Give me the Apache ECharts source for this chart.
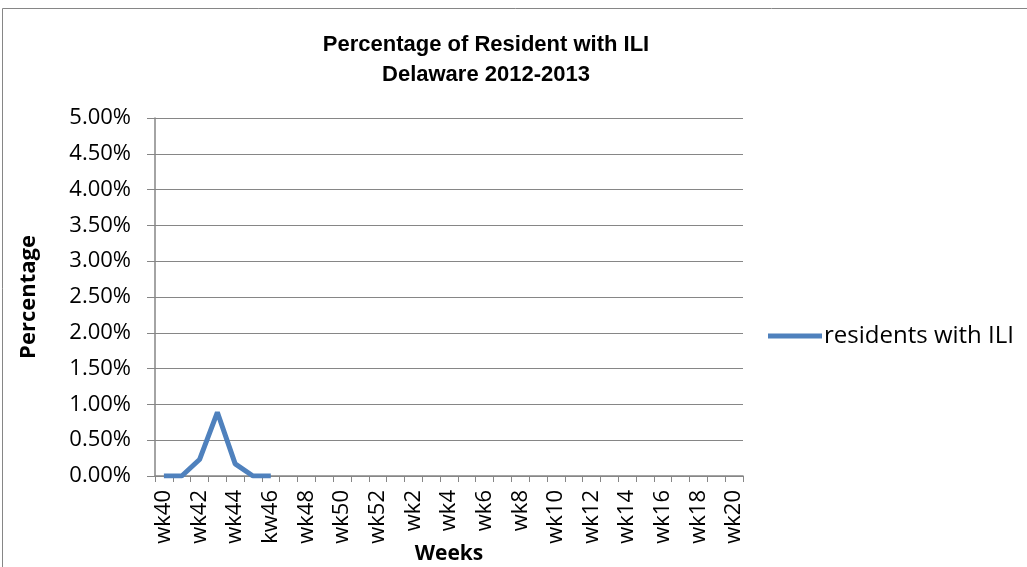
<!DOCTYPE html>
<html><head><meta charset="utf-8">
<script src="https://cdn.jsdelivr.net/npm/echarts@6/dist/echarts.min.js"></script>
<style>html,body{margin:0;padding:0;background:#fff}#c{width:1027px;height:567px}</style>
</head><body><div id="c"></div>
<script>
const weeks = ['wk40','wk41','wk42','wk43','wk44','wk45','kw46','wk47','wk48','wk49','wk50','wk51','wk52',
  'wk1','wk2','wk3','wk4','wk5','wk6','wk7','wk8','wk9','wk10','wk11','wk12','wk13','wk14','wk15','wk16','wk17','wk18','wk19','wk20'];
const residentsILI = [0, 0, 0.0023, 0.0089, 0.0017, 0, 0, null, null, null, null, null, null,
  null, null, null, null, null, null, null, null, null, null, null, null, null, null, null, null, null, null, null, null];
const chart = echarts.init(document.getElementById('c'));
chart.setOption({
  animation: false,
  graphic: [{type:'rect', shape:{x:2.5,y:8.5,width:1030,height:570}, style:{fill:'none', stroke:'#868686', lineWidth:1}}],
  title: {
    text: 'Percentage of Resident with ILI\nDelaware 2012-2013',
    left: 481, top: 25, textAlign: 'center',
    textStyle: {fontFamily:'Liberation Sans', fontWeight:'bold', fontSize:22, lineHeight:30, color:'#000'}
  },
  legend: {
    orient:'vertical', left: 763, top: 319, itemWidth: 54, itemHeight: 5,
    icon: 'rect', itemGap: 0,
    textStyle: {fontFamily:'Open Sans', fontSize:24, color:'#000', padding:[0,0,0,-3]}
  },
  grid: {left:155, right:284, top:118, bottom:91, containLabel:false, outerBoundsMode:'none'},
  xAxis: {
    type:'category', data: weeks, boundaryGap:true,
    name:'Weeks', nameLocation:'middle', nameGap:68, nameMoveOverlap:false,
    nameTextStyle:{fontFamily:'Open Sans', fontWeight:'bold', fontSize:21, color:'#000', verticalAlign:'top'},
    axisLine:{lineStyle:{color:'#868686', width:1.5}},
    axisTick:{show:true, length:6, interval:0, lineStyle:{color:'#868686'}},
    axisLabel:{interval:1, rotate:90, fontFamily:'Open Sans', fontSize:22, color:'#000', margin:14}
  },
  yAxis: {
    type:'value', min:0, max:0.05, interval:0.005,
    name:'Percentage', nameLocation:'middle', nameGap:115, nameRotate:90, nameMoveOverlap:false,
    nameTextStyle:{fontFamily:'Open Sans', fontWeight:'bold', fontSize:22, color:'#000'},
    axisLine:{show:true, lineStyle:{color:'#868686', width:1.5}},
    axisTick:{show:true, length:8, inside:false, lineStyle:{color:'#868686'}},
    splitLine:{lineStyle:{color:'#868686', width:1.2}},
    axisLabel:{fontFamily:'Open Sans', fontSize:22, color:'#000', margin:24,
      formatter: v => (v*100).toFixed(2) + '%'}
  },
  series: [{
    name:'residents with ILI', type:'line', data: residentsILI,
    showSymbol:false, symbol:'none', connectNulls:false,
    lineStyle:{color:'#4F81BD', width:5}, itemStyle:{color:'#4F81BD'}
  }]
});
</script></body></html>
